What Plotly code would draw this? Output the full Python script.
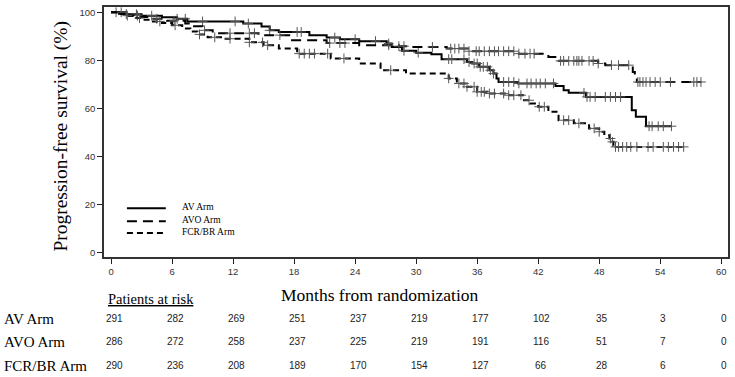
import numpy as np
import plotly.graph_objects as go

# ---------------- data ----------------
x_ticks = [0, 6, 12, 18, 24, 30, 36, 42, 48, 54, 60]
y_ticks = [0, 20, 40, 60, 80, 100]

arm_names = ["AV Arm", "AVO Arm", "FCR/BR Arm"]

av_t = [0, 1.5, 3, 5, 6.5, 7.5, 13, 14.8, 15.6, 16.5, 19.5, 21.2, 22.5, 24.4, 27.1, 27.6, 28.6, 30.0, 31.5,
        32.5, 35.0, 35.5, 36.2, 37.2, 37.6, 37.9, 38.1, 40.0, 43.7, 44.5, 45.0, 46.7, 51.2, 51.6, 52.6, 55.1]
av_s = [100, 99.2, 98.6, 97.9, 97.3, 96.2, 95.3, 94.1, 92.5, 91.8, 90.4, 89.5, 88.8, 88.0, 87.0, 85.6, 84.0, 83.2, 82.5,
        80.5, 79.3, 78.7, 77.3, 75.9, 74.5, 72.5, 71.0, 70.4, 69.3, 67.6, 66.5, 64.8, 59.3, 56.5, 52.6, 52.6]

avo_t = [0, 0.8, 1.8, 3, 4, 5.5, 7.3, 8, 9, 10, 14.5, 17.8, 21.2, 24.4, 28.3, 29.3, 33, 35.2, 40.1, 43, 44,
         47.9, 48.6, 51.3, 51.5, 51.7, 58]
avo_s = [100, 99.3, 98.6, 98.0, 97.3, 96.5, 95.3, 94.2, 92.5, 91.3, 90.5, 88.4, 87.2, 86.3, 85.9, 85.6, 84.9, 83.8,
         82.8, 81.4, 79.8, 78.7, 78.0, 75.2, 73.0, 71.0, 71.0]

fcr_t = [0, 0.6, 1.3, 2.2, 3, 4, 5, 6, 7, 7.8, 8.5, 9.5, 11, 13.6, 15, 16.5, 18.3, 21.6, 24.4, 26.5, 29, 33.2,
         34, 35, 36, 37, 39, 40.5, 41.2, 42, 43, 44, 45.5, 47, 48, 48.5, 49, 49.2, 49.4, 56.5]
fcr_s = [100, 99.3, 98.6, 97.6, 96.9, 96.2, 95.5, 94.6, 93.3, 92.0, 90.8, 89.6, 89.0, 87.5, 86.3, 84.9, 82.8, 80.8,
         78.7, 75.9, 74.5, 72.5, 70.4, 69.0, 66.9, 66.2, 65.5, 63.4, 62.1, 60.7, 58.6, 55.1, 53.8, 51.7, 50.3, 48.9,
         47.5, 46.1, 44.0, 44.0]

av_cens = [1, 2.5, 4, 6.5, 7.3, 9, 12.2, 13.5, 15.6, 18.3, 18.7, 22, 24, 26, 27.3, 28.8, 30.2, 33.2, 33.5, 34.7,
           35.2, 35.7, 36.0, 36.3, 36.6, 37.0, 37.3, 37.6, 38.6, 39.1, 39.6, 40.1, 40.9, 41.3, 41.8, 42.2, 42.7,
           43.5, 46.5, 46.8, 47.1, 47.6, 48.6, 49.1, 49.6, 50.1, 52.9, 53.2, 53.8, 54.3, 55.1]
avo_cens = [0.5, 1.5, 2.6, 4.5, 6.2, 9.2, 11.7, 13.6, 14.1, 16.6, 21.5, 22.5, 23.0, 27.3, 28.3, 28.8, 31.6, 33.4,
            33.8, 34.2, 34.7, 35.2, 35.9, 36.2, 36.7, 37.2, 37.7, 38.1, 38.6, 39.1, 39.6, 40.1, 40.7, 41.2, 41.6,
            44.2, 44.5, 45.0, 45.5, 45.8, 46.0, 46.3, 47.0, 47.4, 47.9, 49.2, 49.9, 50.9, 51.8, 52.0, 52.3, 52.6,
            53.0, 53.5, 54.0, 55.0, 57.3, 57.6, 58.0]
fcr_cens = [1.6, 2.8, 4.8, 6.3, 8.7, 10.2, 11.7, 13.6, 14.9, 15.4, 18.5, 19.0, 19.5, 20.0, 21.3, 22.9, 27.5, 33.2,
            34.2, 34.7, 35.0, 35.7, 36.0, 36.4, 36.7, 37.2, 37.7, 38.6, 39.1, 39.6, 40.3, 41.1, 42.1, 42.6, 44.5,
            45.0, 46.0, 47.5, 48.0, 49.1, 49.3, 49.6, 49.9, 50.3, 50.7, 51.1, 51.7, 52.8, 53.3, 54.3, 54.8, 55.3,
            55.8, 56.3]

risk_av = [291, 282, 269, 251, 237, 219, 177, 102, 35, 3, 0]
risk_avo = [286, 272, 258, 237, 225, 219, 191, 116, 51, 7, 0]
risk_fcr = [290, 236, 208, 189, 170, 154, 127, 66, 28, 6, 0]

# ---------------- figure ----------------
W, H = 735, 377
L, R, T, B = 104, 5, 6, 120
pw, ph = W - L - R, H - T - B


def px(xp):
    return (xp - L) / pw


def py(yp):
    return 1 - (yp - T) / ph


def step_at(ts, ss, t):
    i = int(np.searchsorted(ts, t, side="right")) - 1
    return ss[max(i, 0)]


fig = go.Figure()

styles = [("solid", 2.0), ("10px,6px", 2.0), ("6px,4px", 2.0)]
curves = [(av_t, av_s, av_cens), (avo_t, avo_s, avo_cens), (fcr_t, fcr_s, fcr_cens)]

for name, (ts, ss, cens), (dash, w) in zip(arm_names, curves, styles):
    fig.add_trace(go.Scatter(x=ts, y=ss, mode="lines", line=dict(shape="hv", color="black", width=w, dash=dash),
                             name=name, showlegend=False, hoverinfo="skip"))
    fig.add_trace(go.Scatter(x=cens, y=[step_at(ts, ss, c) for c in cens], mode="markers",
                             marker=dict(symbol="cross-thin", size=7, line=dict(color="#555", width=1)),
                             showlegend=False, hoverinfo="skip"))

tickfont = dict(family="Arial, Liberation Sans, sans-serif", size=9.5, color="#333")
serif = "Times New Roman, Liberation Serif, serif"

fig.update_layout(
    width=W, height=H, margin=dict(l=L, r=R, t=T, b=B),
    paper_bgcolor="white", plot_bgcolor="white",
    xaxis=dict(range=[-0.69, 60.66], tickvals=x_ticks, ticks="outside", ticklen=5, tickwidth=1.2,
               tickcolor="#222", showline=True, linecolor="#333", linewidth=1.6, mirror=True,
               showgrid=False, zeroline=False, tickfont=tickfont),
    yaxis=dict(range=[-1.8, 102.2], tickvals=y_ticks, ticks="outside", ticklen=5, tickwidth=1.2,
               tickcolor="#222", showline=True, linecolor="#333", linewidth=1.6, mirror=True,
               showgrid=False, zeroline=False, tickfont=tickfont),
)

ann = []
# axis titles
ann.append(dict(text="Progression-free survival (%)", x=px(61), y=py(136), xref="paper", yref="paper",
                xanchor="center", yanchor="middle",
                textangle=-90, showarrow=False, font=dict(family=serif, size=19.5, color="black")))
ann.append(dict(text="Months from randomization", x=px(381), y=py(295), xref="paper", yref="paper",
                xanchor="center", yanchor="middle",
                showarrow=False, font=dict(family=serif, size=17.5, color="black")))
ann.append(dict(text="<u>Patients at risk</u>", x=px(106), y=py(299), xref="paper", yref="paper",
                xanchor="left", yanchor="middle", showarrow=False,
                font=dict(family=serif, size=14.5, color="black")))

# legend (drawn manually)
leg_y = [208, 221, 233]
for name, (dash, w), yy in zip(arm_names, styles, leg_y):
    fig.add_shape(type="line", xref="paper", yref="paper", x0=px(127), x1=px(166), y0=py(yy), y1=py(yy),
                  line=dict(color="black", width=w, dash=dash))
    ann.append(dict(text=name, x=px(180), y=py(yy - 1), xref="paper", yref="paper", xanchor="left",
                    yanchor="middle", showarrow=False, font=dict(family=serif, size=9.5, color="black")))

# risk table
row_y = [319, 342, 366]
for name, vals, yy in zip(arm_names, [risk_av, risk_avo, risk_fcr], row_y):
    ann.append(dict(text=name, x=px(2), y=py(yy), xref="paper", yref="paper", xanchor="left",
                    yanchor="middle", showarrow=False, font=dict(family=serif, size=15, color="black")))
    for t, v in zip(x_ticks, vals):
        ann.append(dict(text=str(v), x=t + 0.3, y=py(yy), xref="x", yref="paper", xanchor="center",
                        yanchor="middle", showarrow=False,
                        font=dict(family="Arial, Liberation Sans, sans-serif", size=10, color="#222")))

fig.update_layout(annotations=ann)
fig.write_html("out.html", config={"displayModeBar": False},
               post_script="document.body.style.margin='0';document.body.style.overflow='hidden';")
